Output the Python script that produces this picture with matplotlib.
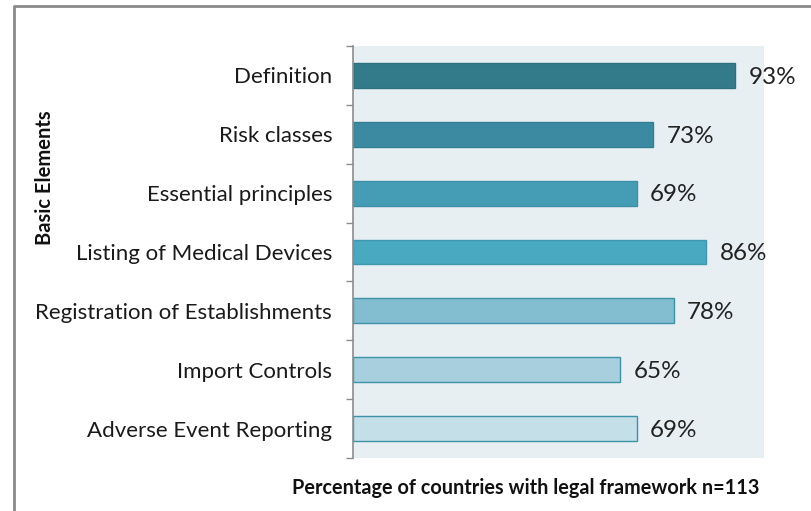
import matplotlib
matplotlib.use("Agg")
import matplotlib.pyplot as plt
import numpy as np
from matplotlib.lines import Line2D

# data
categories = ["Definition", "Risk classes", "Essential principles",
              "Listing of Medical Devices", "Registration of Establishments",
              "Import Controls", "Adverse Event Reporting"]
values = [93, 73, 69, 86, 78, 65, 69]
bar_colors = ["#337a8b", "#3b8aa1", "#459db5", "#48a9c1",
              "#83bdd0", "#a8cfdd", "#c5dfe8"]
edge_colors = ["#2e7080", "#347f93", "#3d8ea4", "#3f98ae",
               "#3f93a8", "#3f93a8", "#3f93a8"]

plt.rcParams['font.family'] = ['Lato', 'DejaVu Sans']

fig = plt.figure(figsize=(8.11, 5.11), dpi=100)
ax = fig.add_axes([353/811, 53/511, 411/811, 412/511])
ax.set_facecolor("#e8eff3")

y = np.arange(len(categories))
ax.barh(y, values, height=0.42, color=bar_colors, edgecolor=edge_colors, linewidth=1)
for yi, v in zip(y, values):
    ax.text(v + 3.3, yi + 0.03, "%d%%" % v, va="center", ha="left", fontsize=17.5, color="#222222")

ax.set_xlim(0, 100)
ax.set_ylim(len(categories) - 0.5, -0.5)
ax.set_yticks(y)
ax.set_yticklabels(categories, fontsize=16, color="#1a1a1a")
ax.set_yticks(np.arange(-0.5, len(categories)), minor=True)
ax.tick_params(axis="y", which="major", length=0, pad=15)
ax.tick_params(axis="y", which="minor", length=5, color="#8c8c8c", width=1)
ax.set_xticks([])
for s in ["top", "right", "bottom"]:
    ax.spines[s].set_visible(False)
ax.spines["left"].set_color("#8c8c8c")
ax.spines["left"].set_linewidth(1.2)

fig.text(526/811, 1 - 488/511, "Percentage of countries with legal framework n=113",
         ha="center", va="center", fontsize=14.3, fontweight="bold", color="#111111")
fig.text(45/811, 1 - 178/511, "Basic Elements", rotation=90,
         ha="center", va="center", fontsize=14.5, fontweight="bold", color="#111111")

# outer frame (left and top)
fig.add_artist(Line2D([14/811, 14/811, 1.0], [0.0, 1 - 6/511, 1 - 6/511],
                      transform=fig.transFigure, color="#8a8a8a", linewidth=2))

fig.savefig("out.png", dpi=100)
